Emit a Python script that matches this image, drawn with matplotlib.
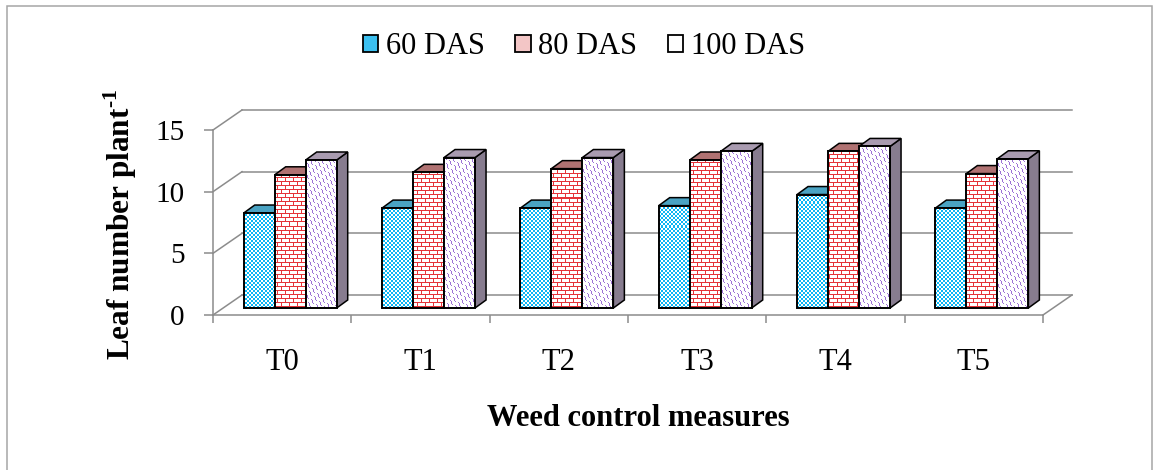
import numpy as np
import matplotlib.pyplot as plt
from matplotlib.patches import Polygon, Rectangle, Patch

# leaf number per plant for each weed control treatment
categories = ['T0', 'T1', 'T2', 'T3', 'T4', 'T5']
das_60 = [7.7, 8.1, 8.1, 8.3, 9.2, 8.1]
das_80 = [10.8, 11.0, 11.3, 12.0, 12.7, 10.9]
das_100 = [12.0, 12.2, 12.2, 12.7, 13.1, 12.1]
series_names = ['60 DAS', '80 DAS', '100 DAS']
y_ticks = [0, 5, 10, 15]

plt.rcParams['font.family'] = 'Liberation Serif'
plt.rcParams['mathtext.fontset'] = 'custom'
plt.rcParams['mathtext.rm'] = 'Liberation Serif:bold'
plt.rcParams['mathtext.bf'] = 'Liberation Serif:bold'

W, H = 1158, 470
fig = plt.figure(figsize=(W / 100, H / 100), dpi=100)

# front plane of the pseudo-3d box, in pixels
left, right, bottom, top = 213, 1043, 315, 130
pw, ph = right - left, bottom - top
ax = fig.add_axes([left / W, 1 - bottom / H, pw / W, ph / H])
ax.set_xlim(0, 6)
ax.set_ylim(0, 15)

gray = '#8c8c8c'
ux, uy = 6 / pw, 15 / ph          # data units per pixel
DX, DY = 29 * ux, 20 * uy         # depth of the wall/floor
fx, fy = 10 * ux, 7 * uy          # front face of bars sits a bit inside
bdx, bdy = 11 * ux, 8 * uy        # bar depth
bw = 31 * ux                      # bar width
group_left = 0.222


def texture(kind):
    yy, xx = np.mgrid[0:ph, 0:pw]
    img = np.ones((ph, pw, 3))
    if kind == 'checker':
        mask = ((xx // 2) + (yy // 2)) % 2 == 0
        color = (0.05, 0.72, 0.96)
    elif kind == 'brick':
        mask = (yy % 4 == 0) | ((xx + 4 * ((yy // 4) % 2)) % 8 == 0)
        color = (0.90, 0.20, 0.22)
    else:
        wave = np.round(1.5 * np.sin(2 * np.pi * (xx + yy) / 10))
        mask = ((xx - yy + wave) % 6 == 0)
        color = (0.62, 0.45, 0.84)
    img[mask] = color
    return img


styles = [
    dict(tex=texture('checker'), top='#4aa3c3', side='#2f86a8'),
    dict(tex=texture('brick'), top='#b07272', side='#96595a'),
    dict(tex=texture('wave'), top='#a99bb0', side='#877c8f'),
]

# back wall, side wall and floor
for v in y_ticks:
    ax.plot([0, DX], [v, v + DY], color=gray, lw=1.1, clip_on=False, zorder=1)
    ax.plot([DX, 6 + DX], [v + DY, v + DY], color=gray, lw=1.1, clip_on=False, zorder=1)
ax.plot([6, 6 + DX], [0, DY], color=gray, lw=1.1, clip_on=False, zorder=1)

# bars, left to right so each one hides the side of the previous
z = 3.0
for i in range(len(categories)):
    for s, values in enumerate([das_60, das_80, das_100]):
        v = values[i]
        st = styles[s]
        x0 = i + group_left + s * bw
        y0 = fy
        y1 = v + fy
        side = Polygon([(x0 + bw, y0), (x0 + bw + bdx, y0 + bdy),
                        (x0 + bw + bdx, y1 + bdy), (x0 + bw, y1)],
                       facecolor=st['side'], edgecolor='black', lw=1.1, zorder=z,
                       clip_on=False)
        topf = Polygon([(x0, y1), (x0 + bw, y1), (x0 + bw + bdx, y1 + bdy), (x0 + bdx, y1 + bdy)],
                       facecolor=st['top'], edgecolor='black', lw=1.1, zorder=z,
                       clip_on=False)
        ax.add_patch(side)
        ax.add_patch(topf)
        front = Rectangle((x0, y0), bw, v, facecolor='none', edgecolor='black',
                          lw=1.4, zorder=z + 0.002)
        ax.add_patch(front)
        im = ax.imshow(st['tex'], extent=(0, 6, 0, 15), aspect='auto',
                       interpolation='nearest', zorder=z + 0.001)
        im.set_clip_path(front)
        z += 0.01

ax.set_xlim(0, 6)
ax.set_ylim(0, 15)

for sp in ['top', 'right']:
    ax.spines[sp].set_visible(False)
for sp in ['left', 'bottom']:
    ax.spines[sp].set_color(gray)
    ax.spines[sp].set_linewidth(1.1)

ax.set_yticks(y_ticks)
ax.tick_params(axis='y', length=6.5, width=1.1, color=gray, pad=14, labelsize=21)
ax.set_xticks(range(7))
ax.set_xticklabels([])
ax.set_xticks(np.arange(6) + 0.5, minor=True)
ax.set_xticklabels(categories, minor=True)
ax.tick_params(axis='x', which='major', length=6, width=1.1, color=gray)
ax.tick_params(axis='x', which='minor', length=0, pad=24, labelsize=22)

fig.text(120 / W, 1 - 224 / H, r'Leaf number plant$^{\text{-}1}$', rotation=90,
         fontsize=22.5, fontweight='bold', ha='center', va='center')
fig.text(638 / W, 1 - 418 / H, 'Weed control measures',
         fontsize=22, fontweight='bold', ha='center', va='center')

handles = [
    Patch(facecolor='#3cc0f0', edgecolor='black', lw=1.3),
    Patch(facecolor='#f3c6c6', edgecolor='black', lw=1.3),
    Patch(facecolor='white', edgecolor='black', lw=1.3),
]
fig.legend(handles, series_names, loc='center', bbox_to_anchor=(584 / W, 1 - 47 / H),
           ncol=3, frameon=False, fontsize=22, handlelength=0.5, handleheight=0.5,
           handletextpad=0.25, columnspacing=1.0)

# outer frame
fig.add_artist(Rectangle((7 / W, -0.05), 1145 / W, 1 - 6 / H + 0.05, transform=fig.transFigure,
                         fill=False, edgecolor='#a6a6a6', lw=1.1))

fig.savefig('out.png', dpi=100)
